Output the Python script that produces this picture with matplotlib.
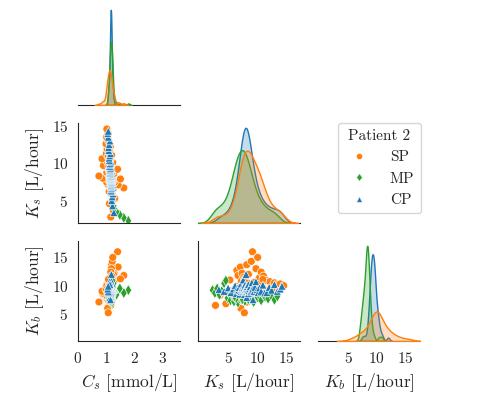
import matplotlib
matplotlib.use("agg")
import matplotlib.pyplot as plt
import seaborn as sns
import pandas as pd

# patient 2 parameter samples
sp_ks = [2.8, 3.6, 4.6, 5.3, 5.8, 6.2, 6.5, 6.7, 6.9, 7.1, 7.2, 7.3, 7.4, 7.5, 7.6, 7.7, 7.8, 7.9, 8.0, 8.1,
         8.2, 8.3, 8.4, 8.5, 8.6, 8.7, 8.8, 9.0, 9.1, 9.2, 9.4, 9.5, 9.7, 9.8, 10.0, 10.1, 10.3, 10.4, 10.6, 10.7,
         10.9, 11.1, 11.3, 11.6, 11.9, 12.2, 12.6, 13.0, 13.5, 14.0, 14.6, 8.0, 8.9, 9.3, 7.6, 10.2, 6.9, 8.4, 9.6, 11.0]
sp_cs = [1.16, 1.26, 1.11, 1.30, 1.21, 1.10, 1.24, 1.62, 1.14, 1.42, 1.05, 1.19, 1.28, 1.01, 1.16, 1.23, 1.07, 1.50, 0.88, 1.14,
         1.19, 0.74, 1.11, 1.25, 1.05, 1.15, 1.02, 1.21, 1.10, 1.40, 1.04, 1.14, 0.90, 1.18, 1.08, 1.23, 1.02, 1.12, 0.85, 1.16,
         1.06, 1.19, 1.00, 1.11, 1.03, 1.14, 0.99, 1.08, 1.01, 1.06, 1.02, 1.12, 1.13, 1.10, 1.14, 1.11, 1.17, 1.13, 1.09, 1.08]
sp_kb = [6.5, 8.3, 6.8, 11.0, 9.2, 7.3, 12.7, 11.8, 10.0, 13.3, 6.0, 10.8, 12.2, 7.8, 9.6, 11.5, 5.2, 11.2, 8.5, 10.1,
         13.7, 7.1, 9.4, 12.0, 7.6, 10.4, 8.8, 14.3, 9.9, 16.0, 8.0, 10.6, 8.6, 13.0, 9.8, 15.0, 8.2, 11.4, 9.0, 12.4,
         8.9, 11.7, 9.3, 10.9, 9.1, 10.7, 9.5, 10.5, 10.2, 10.3, 10.0, 9.7, 10.1, 9.8, 9.9, 10.2, 9.6, 10.4, 9.9, 11.1]

mp_ks = [2.3, 2.7, 3.1, 3.5, 3.9, 4.3, 4.6, 4.9, 5.2, 5.4, 5.6, 5.8, 6.0, 6.2, 6.3, 6.5, 6.6, 6.7, 6.8, 6.9,
         7.0, 7.1, 7.2, 7.3, 7.4, 7.5, 7.6, 7.7, 7.8, 7.9, 8.0, 8.1, 8.2, 8.3, 8.4, 8.5, 8.7, 8.8, 9.0, 9.2,
         9.4, 9.6, 9.8, 10.1, 10.4, 10.7, 11.0, 11.4, 11.9, 12.4, 13.0, 13.5, 6.4, 7.0, 7.5, 5.9, 8.6, 6.1, 7.8, 9.1]
mp_cs = [1.78, 1.62, 1.48, 1.36, 1.28, 1.26, 1.22, 1.19, 1.20, 1.22, 1.21, 1.17, 1.21, 1.21, 1.20, 1.16, 1.20, 1.20, 1.19, 1.15,
         1.19, 1.19, 1.18, 1.15, 1.18, 1.18, 1.18, 1.14, 1.17, 1.18, 1.17, 1.14, 1.17, 1.17, 1.16, 1.13, 1.16, 1.16, 1.15, 1.12,
         1.15, 1.15, 1.14, 1.11, 1.13, 1.14, 1.12, 1.09, 1.10, 1.11, 1.09, 1.06, 1.19, 1.20, 1.17, 1.18, 1.16, 1.22, 1.17, 1.13]
mp_kb = [9.2, 8.7, 9.5, 8.4, 9.0, 10.4, 10.9, 7.8, 8.5, 7.4, 8.8, 8.1, 7.2, 8.4, 8.9, 7.9, 8.3, 7.0, 8.6, 8.2,
         7.7, 8.4, 8.9, 8.1, 7.5, 8.3, 8.6, 8.0, 8.4, 7.3, 8.2, 8.7, 7.9, 8.3, 8.5, 7.6, 8.2, 8.8, 7.8, 8.4,
         7.1, 8.3, 8.6, 7.9, 8.2, 7.4, 8.5, 8.0, 7.7, 8.3, 7.5, 8.1, 7.8, 8.4, 7.6, 8.2, 8.5, 8.1, 8.3, 8.6]

cp_ks = [3.4, 4.3, 5.0, 5.5, 5.9, 6.2, 6.4, 6.6, 6.8, 6.9, 7.0, 7.1, 7.2, 7.3, 7.4, 7.5, 7.5, 7.6, 7.7, 7.7,
         7.8, 7.8, 7.9, 7.9, 8.0, 8.0, 8.0, 8.1, 8.1, 8.2, 8.2, 8.3, 8.3, 8.4, 8.5, 8.5, 8.6, 8.7, 8.8, 8.9,
         9.0, 9.1, 9.2, 9.3, 9.5, 9.6, 9.8, 10.0, 10.2, 10.4, 10.7, 11.0, 11.3, 11.7, 12.1, 12.5, 13.0, 13.5, 14.0, 14.3]
cp_cs = [1.27, 1.22, 1.19, 1.21, 1.24, 1.18, 1.17, 1.19, 1.23, 1.17, 1.16, 1.18, 1.22, 1.16, 1.16, 1.18, 1.21, 1.16, 1.15, 1.17,
         1.21, 1.15, 1.15, 1.17, 1.20, 1.15, 1.15, 1.18, 1.19, 1.16, 1.13, 1.18, 1.18, 1.15, 1.14, 1.16, 1.19, 1.14, 1.13, 1.15,
         1.19, 1.13, 1.12, 1.15, 1.18, 1.12, 1.12, 1.14, 1.17, 1.11, 1.10, 1.12, 1.15, 1.09, 1.08, 1.10, 1.13, 1.07, 1.05, 1.07]
cp_kb = [9.3, 9.0, 9.6, 8.8, 9.4, 10.0, 8.6, 9.6, 9.2, 9.7, 8.5, 9.1, 10.3, 9.0, 9.6, 8.9, 9.4, 11.0, 9.2, 9.4,
         9.7, 8.4, 9.2, 10.1, 9.5, 8.9, 9.3, 12.0, 9.6, 9.0, 7.9, 9.4, 9.8, 9.2, 10.2, 8.6, 9.1, 9.5, 9.8, 8.9,
         9.2, 10.5, 9.4, 7.5, 9.0, 9.7, 10.7, 9.3, 8.8, 9.6, 9.0, 10.1, 8.7, 8.8, 9.7, 9.2, 10.2, 9.0, 9.4, 9.9]

groups = ["SP", "MP", "CP"]
colors = ["#ff7f0e", "#2ca02c", "#1f77b4"]
markers = ["o", "d", "^"]

cs_label = r"$C_s$ [mmol/L]"
ks_label = r"$K_s$ [L/hour]"
kb_label = r"$K_b$ [L/hour]"

df = pd.DataFrame({
    cs_label: sp_cs + mp_cs + cp_cs,
    ks_label: sp_ks + mp_ks + cp_ks,
    kb_label: sp_kb + mp_kb + cp_kb,
    "Patient 2": ["SP"] * len(sp_cs) + ["MP"] * len(mp_cs) + ["CP"] * len(cp_cs),
})

sns.set_style("white")
plt.rcParams["font.family"] = "serif"
plt.rcParams["font.serif"] = ["cmr10", "DejaVu Serif"]
plt.rcParams["mathtext.fontset"] = "cm"
plt.rcParams["axes.formatter.use_mathtext"] = True
plt.rcParams["axes.unicode_minus"] = False

g = sns.pairplot(df, hue="Patient 2", hue_order=groups, palette=colors, markers=markers,
                 corner=True, height=1.3, grid_kws={"diag_sharey": False},
                 plot_kws={"s": 32}, diag_kws={"bw_adjust": 0.8})

fig = g.figure
fig.set_size_inches(4.81, 3.94)
fig.subplots_adjust(left=78 / 481, right=420 / 481, bottom=53 / 394, top=389 / 394,
                    wspace=0.18, hspace=0.18)

axes = g.axes
axes[2, 0].set_xlim(0, 3.6)
axes[2, 0].set_xticks([0, 1, 2, 3])
axes[2, 1].set_xlim(-0.2, 17.4)
axes[2, 1].set_xticks([5, 10, 15])
axes[2, 2].set_xlim(-0.3, 17.6)
axes[2, 2].set_xticks([5, 10, 15])
axes[1, 0].set_ylim(2.0, 15.4)
axes[1, 0].set_yticks([5, 10, 15])
axes[2, 0].set_ylim(0.2, 17.9)
axes[2, 0].set_yticks([5, 10, 15])

for ax in [axes[1, 0], axes[2, 0], axes[2, 1], axes[2, 2]]:
    ax.tick_params(labelsize=11)
    ax.xaxis.label.set_size(12.5)
    ax.yaxis.label.set_size(12.5)

sns.move_legend(g, "upper left", bbox_to_anchor=(338 / 481, 1 - 123 / 394), frameon=True,
                fontsize=11, title_fontsize=11, handletextpad=1.0, markerscale=0.8,
                borderaxespad=0)

fig.savefig("out.png", dpi=100)
